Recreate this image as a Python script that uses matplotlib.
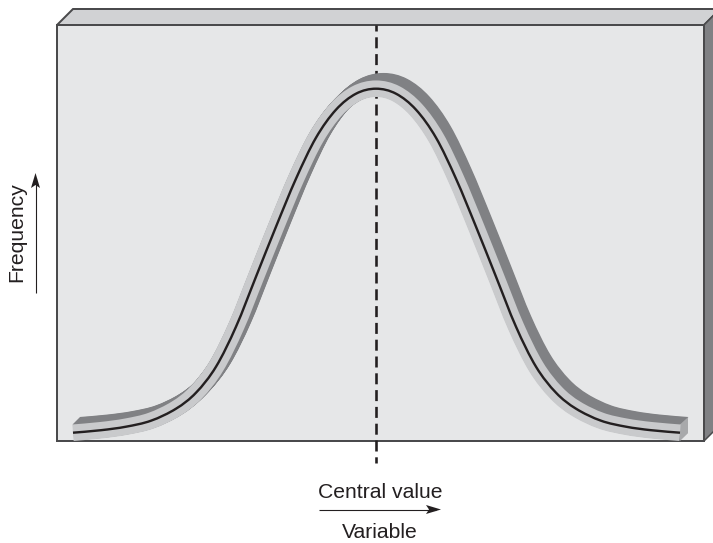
import numpy as np
import matplotlib
matplotlib.use("Agg")
import matplotlib.pyplot as plt
from matplotlib.path import Path
from matplotlib.patches import PathPatch, Polygon

plt.rcParams['font.family'] = ['Liberation Sans', 'DejaVu Sans']
plt.rcParams['lines.scale_dashes'] = False

# Curve (horizontal position, height on the picture)
variable = [73, 101, 126, 151, 176, 196, 216, 236, 256, 276, 296, 316, 336, 356,
            376, 396, 416, 436, 456, 476, 496, 516, 536, 556, 576, 601, 626, 651, 680]
frequency = [432.7, 430.2, 426.7, 420.7, 408.7, 392.7, 366.7, 326.7, 276.7, 226.7, 178.7, 137.7, 109.7, 93.7,
             88.7, 93.7, 109.7, 137.7, 178.7, 226.7, 276.7, 326.7, 366.7, 392.7, 408.7, 420.7, 426.7, 430.2, 432.7]
labels = {"x_top": "Central value", "x_bottom": "Variable", "y": "Frequency"}

PANEL = '#e6e7e8'; TOP = '#d1d2d4'; SIDE = '#808184'; EDGE = '#4a4a4c'
LIGHT = '#c9cacc'; DARK = '#808184'; END = '#a8a9ab'; INK = '#231f20'
px = 0.72  # points per pixel at 100 dpi

fig = plt.figure(figsize=(7.13, 5.43), dpi=100)
ax = fig.add_axes([0, 0, 1, 1])
ax.set_xlim(0, 713); ax.set_ylim(543, 0); ax.axis('off')

# Box
front = [(57, 25), (704, 25), (704, 441), (57, 441)]
top = [(57, 25), (73, 9), (720, 9), (704, 25)]
side = [(704, 25), (720, 9), (720, 425), (704, 441)]
ax.add_patch(Polygon(top, fc=TOP, ec=EDGE, lw=2*px, joinstyle='miter', zorder=1))
ax.add_patch(Polygon(side, fc=SIDE, ec=EDGE, lw=1.5*px, joinstyle='miter', zorder=1))
ax.add_patch(Polygon(front, fc=PANEL, ec=EDGE, lw=2*px, joinstyle='miter', zorder=2))

# Dashed central line
ax.plot([375.7, 375.7], [25, 463], color=INK, lw=2.6*px, solid_capstyle='butt', dash_capstyle='butt',
        linestyle=(5*px, (11*px, 5.8*px)), zorder=3)


def smooth_path(xs, ys, dx=0.0, dy=0.0):
    p = np.column_stack([xs, ys]).astype(float) + [dx, dy]
    ext = np.vstack([p[0], p, p[-1]])
    verts = [p[0]]; codes = [Path.MOVETO]
    for i in range(1, len(ext) - 2):
        c1 = ext[i] + (ext[i+1] - ext[i-1]) / 6
        c2 = ext[i+1] - (ext[i+2] - ext[i]) / 6
        verts += [c1, c2, ext[i+1]]
        codes += [Path.CURVE4] * 3
    return Path(verts, codes)


def stroke(path, color, width, z):
    ax.add_patch(PathPatch(path, fc='none', ec=color, lw=width*px, capstyle='butt',
                           joinstyle='round', zorder=z))


# Extruded band: dark sweep, end face, light front, black centre
for s in np.arange(0.5, 8.0, 0.5):
    stroke(smooth_path(variable, frequency, s, -s), DARK, 16.5, 4)
ax.add_patch(Polygon([(variable[-1], frequency[-1]-8.25), (variable[-1]+8, frequency[-1]-15.5),
                      (variable[-1]+8, frequency[-1]+0.5), (variable[-1], frequency[-1]+8.25)],
                     fc=END, ec='none', zorder=5))
stroke(smooth_path(variable, frequency), LIGHT, 16.5, 6)
stroke(smooth_path(variable, frequency), INK, 2.4, 7)


# Arrows with notched heads
def arrow(start, tip):
    start = np.array(start, float); tip = np.array(tip, float)
    u = (tip - start) / np.linalg.norm(tip - start)
    n = np.array([-u[1], u[0]])
    ax.plot([start[0], (tip - 5*u)[0]], [start[1], (tip - 5*u)[1]], color=INK, lw=1.1*px,
            solid_capstyle='butt', zorder=8)
    ax.add_patch(Polygon([tip, tip - 15*u + 4.5*n, tip - 12*u, tip - 15*u - 4.5*n],
                         fc=INK, ec='none', zorder=9))


arrow((319, 509.5), (441, 509.5))
arrow((35.5, 293), (35.5, 173))

# Text
fs = 15.2
ax.text(380, 498, labels["x_top"], ha='center', va='baseline', fontsize=fs, color=INK)
ax.text(380, 538, labels["x_bottom"], ha='center', va='baseline', fontsize=fs, color=INK)
ax.text(22, 232.5, labels["y"], ha='center', va='baseline', rotation=90, rotation_mode='anchor', fontsize=fs, color=INK)

fig.savefig('out.png', dpi=100)
